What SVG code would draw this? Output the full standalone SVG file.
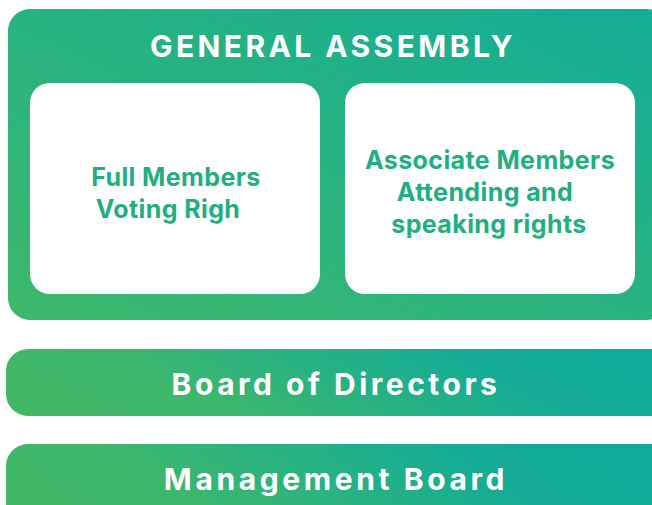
<svg xmlns="http://www.w3.org/2000/svg" width="652" height="505" viewBox="0 0 652 505">
<defs>
<linearGradient id="gBig" x1="0" y1="1" x2="1" y2="0">
<stop offset="0" stop-color="#3eb86b"/>
<stop offset="1" stop-color="#12ad97"/>
</linearGradient>
<linearGradient id="gBar" x1="0" y1="0.6" x2="1" y2="0.4">
<stop offset="0" stop-color="#42b865"/>
<stop offset="0.25" stop-color="#3db76d"/>
<stop offset="0.75" stop-color="#14ac96"/>
<stop offset="1" stop-color="#10aa9b"/>
</linearGradient>
<style>
.title{font-family:Inter,"Liberation Sans",sans-serif;font-weight:700;font-size:30px;fill:#fff;text-anchor:middle}
.inner{font-family:Inter,"Liberation Sans",sans-serif;font-weight:700;font-size:25px;letter-spacing:0.4px;fill:#21ae80;text-anchor:middle}
.card{fill:#fff}
</style>
</defs>
<g id="general-assembly">
<rect x="8" y="9" width="660" height="311" rx="22" fill="url(#gBig)"/>
<text class="title" x="333" y="57" letter-spacing="3.4">GENERAL ASSEMBLY</text>
</g>
<g id="full-members">
<rect class="card" x="30" y="83" width="290" height="211" rx="20"/>
<text class="inner" x="176" y="186">Full Members</text>
<text class="inner" x="168" y="218">Voting Righ</text>
</g>
<g id="associate-members">
<rect class="card" x="345" y="83" width="290" height="211" rx="20"/>
<text class="inner" x="490" y="169">Associate Members</text>
<text class="inner" x="485" y="201">Attending and</text>
<text class="inner" x="489" y="233">speaking rights</text>
</g>
<g id="board-of-directors">
<rect x="6" y="349" width="666" height="67" rx="22" fill="url(#gBar)"/>
<text class="title" x="336" y="395" letter-spacing="3.5">Board of Directors</text>
</g>
<g id="management-board">
<rect x="6" y="444" width="666" height="90" rx="22" fill="url(#gBar)"/>
<text class="title" x="336" y="490" letter-spacing="3.6">Management Board</text>
</g>
<g id="connectors"/>
</svg>
